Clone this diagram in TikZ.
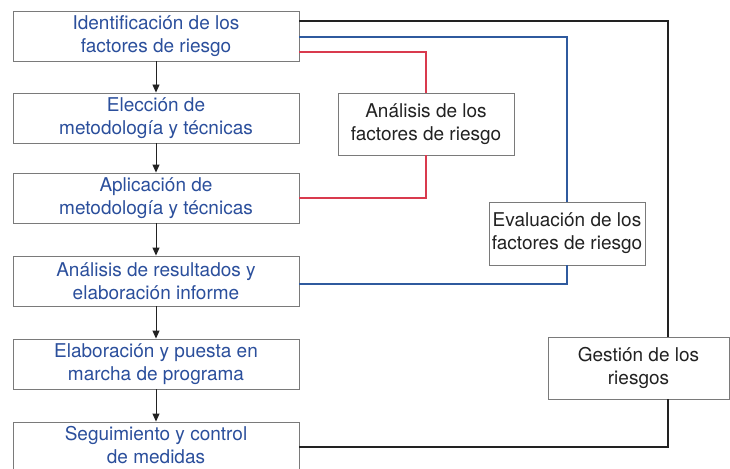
\documentclass[tikz,border=0pt]{standalone}
\usepackage{fontspec}
\setmainfont{TeX Gyre Heros}
\usetikzlibrary{arrows.meta}
\definecolor{txtblue}{HTML}{2B4F9C}
\definecolor{lnblue}{HTML}{2F5A9E}
\definecolor{lnred}{HTML}{D93A4E}
\definecolor{boxgray}{HTML}{7A7A7A}
\definecolor{lnblack}{HTML}{222222}
\tikzset{
  stepbox/.style={draw=boxgray, line width=0.9pt, fill=white, minimum width=286pt, minimum height=50pt,
    align=center, text=txtblue, font=\fontsize{19}{23}\selectfont, inner sep=0pt},
  sidebox/.style={draw=boxgray, line width=0.9pt, fill=white, align=center, text=lnblack,
    font=\fontsize{19}{23}\selectfont, inner sep=0pt},
  flow/.style={draw=lnblack, line width=0.9pt, -{Triangle[length=8pt,width=7pt]}},
  redln/.style={draw=lnred, line width=1.4pt},
  blueln/.style={draw=lnblue, line width=1.4pt},
  blackln/.style={draw=lnblack, line width=1.4pt},
}
\begin{document}
\begin{tikzpicture}[x=1pt,y=-1pt]
\useasboundingbox (0,0) rectangle (730,468);
\coordinate (k1) at (668,21);
\node[stepbox] (b1) at (156,36) {Identificación de los\\factores de riesgo};
\node[stepbox] (b2) at (156,118) {Elección de\\metodología y técnicas};
\node[stepbox] (b3) at (156,198) {Aplicación de\\metodología y técnicas};
\node[stepbox] (b4) at (156,281) {Análisis de resultados y\\elaboración informe};
\node[stepbox] (b5) at (156,364) {Elaboración y puesta en\\marcha de programa};
\node[stepbox, text height=0pt, text depth=0pt] (b6) at (156,447) {};
\node[text=txtblue, align=center, font=\fontsize{19}{23}\selectfont, inner sep=0pt] (b6t) at (156,445.5) {Seguimiento y control\\de medidas};
\node[sidebox, minimum width=176pt, minimum height=62pt] (ana) at (426,124) {Análisis de los\\factores de riesgo};
\node[sidebox, minimum width=156pt, minimum height=63pt] (eva) at (567,233.5) {Evaluación de los\\factores de riesgo};
\node[sidebox, minimum width=181pt, minimum height=62pt] (ges) at (638.5,368) {Gestión de los\\riesgos};
% flow arrows
\draw[flow] (b1) -- (b2);
\draw[flow] (b2) -- (b3);
\draw[flow] (b3) -- (b4);
\draw[flow] (b4) -- (b5);
\draw[flow] (b5) -- (b6);
% red
\draw[redln] ([yshift=-16pt]b1.east) -| (ana.north);
\draw[redln] (ana.south) |- (b3.east);
% blue
\draw[blueln] ([yshift=-1pt]b1.east) -| (eva.north);
\draw[blueln] (eva.south) |- ([yshift=-3pt]b4.east);
% black
\draw[blackln] (b1.east |- k1) -- (k1) -- (ges.north -| k1);
\draw[blackln] (ges.south -| k1) |- (b6.east);
\end{tikzpicture}
\end{document}
